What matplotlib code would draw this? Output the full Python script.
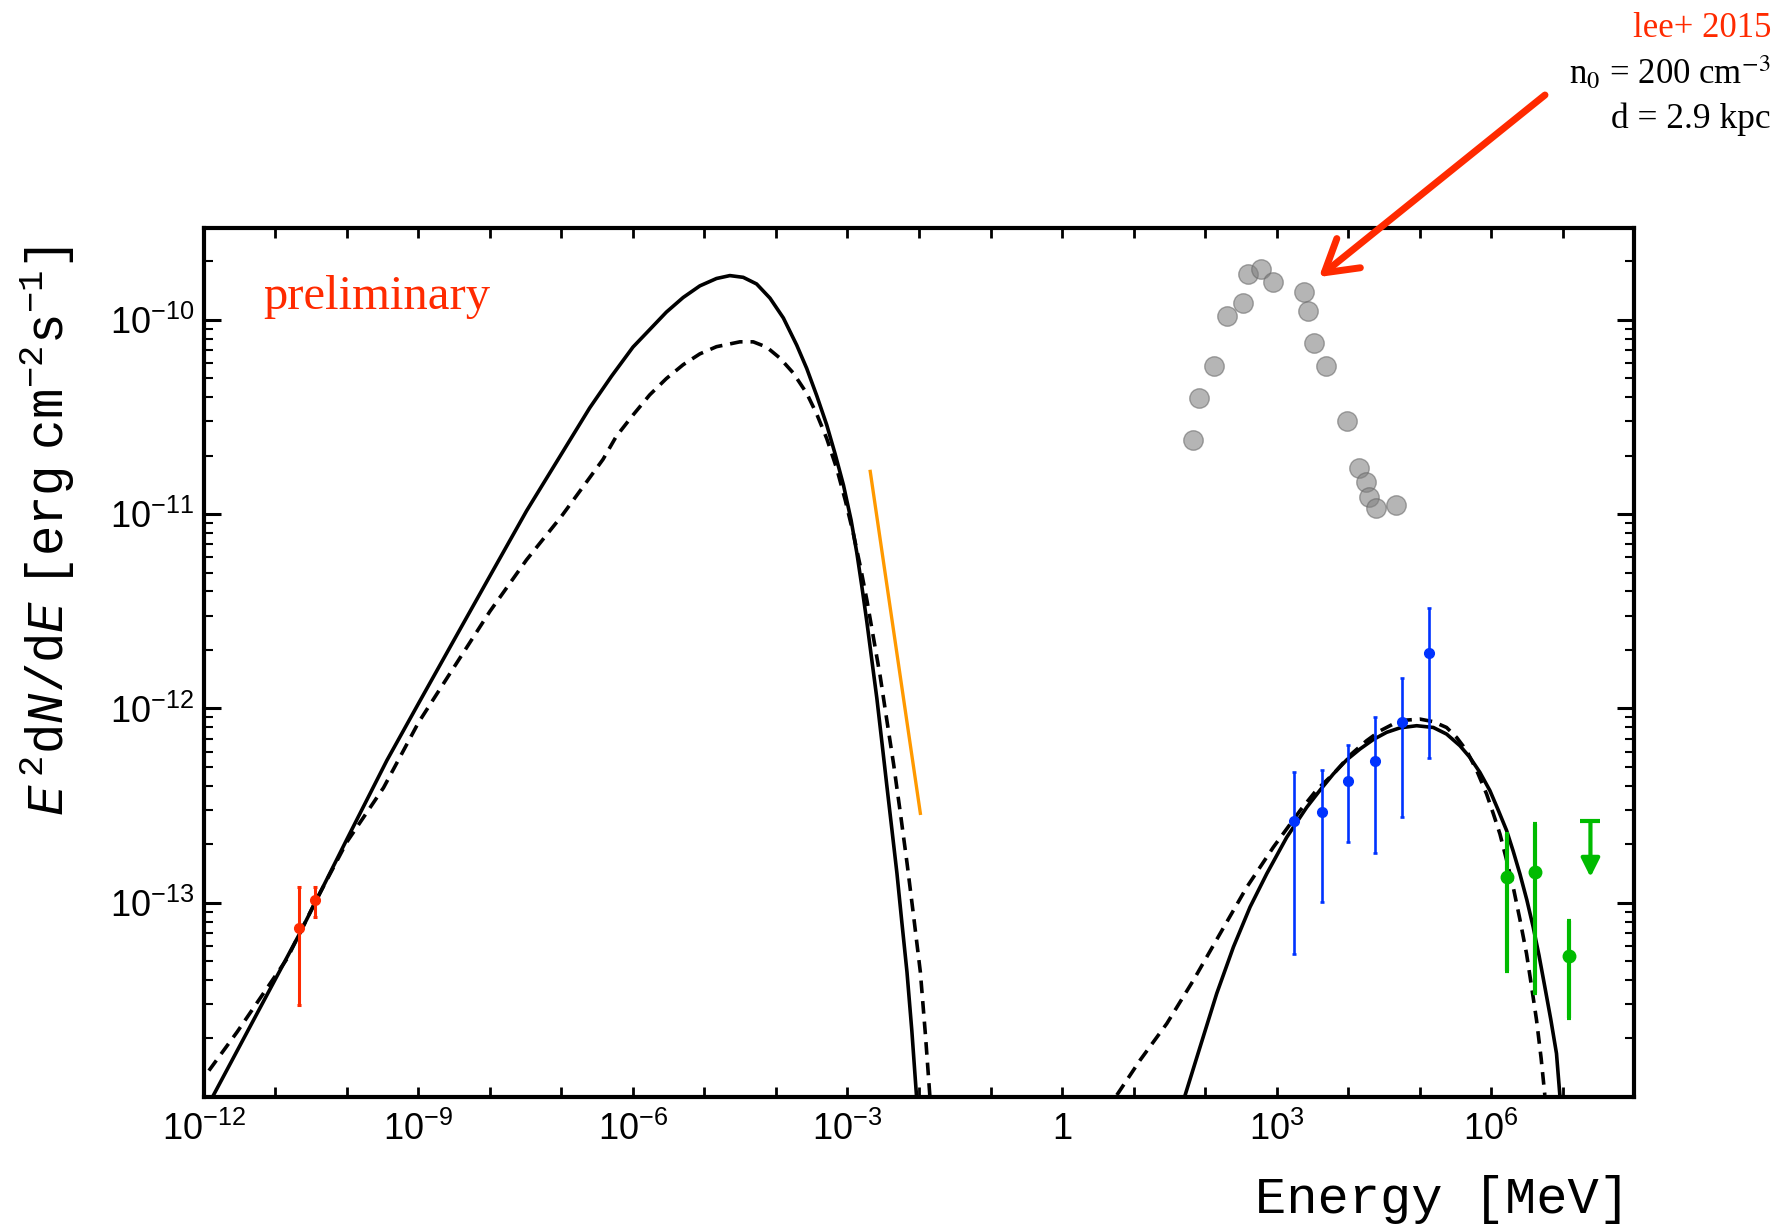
import numpy as np
import matplotlib
matplotlib.use('Agg')
import matplotlib.pyplot as plt
from matplotlib.ticker import FixedLocator, FuncFormatter, NullLocator, LogLocator, NullFormatter

plt.rcParams['font.family'] = 'Liberation Sans'
plt.rcParams['mathtext.fontset'] = 'custom'
plt.rcParams['mathtext.rm'] = 'Liberation Mono'
plt.rcParams['mathtext.tt'] = 'Liberation Mono'
plt.rcParams['mathtext.it'] = 'Liberation Mono:italic'
plt.rcParams['mathtext.bf'] = 'Liberation Mono:bold'

RED = '#ff2a00'
BLUE = '#0033ff'
GREEN = '#00bb00'
ORANGE = '#ff9900'

# model curves as log10(E/MeV), log10(flux)
sync_solid_logE = [-11.88, -10.674, -10.0, -9.442, -9.0, -8.512, -8.0, -7.488, -7.0, -6.605,
                   -6.3, -6.0, -5.766, -5.533, -5.299, -5.065, -4.832, -4.645, -4.458, -4.271,
                   -4.084, -3.897, -3.71, -3.57, -3.43, -3.29, -3.173, -3.056, -2.95, -2.869,
                   -2.8, -2.729, -2.66, -2.589, -2.52, -2.449, -2.38, -2.308, -2.24, -2.168,
                   -2.1, -2.028]
sync_solid_logF = [-14.0, -13.168, -12.673, -12.268, -11.975, -11.654, -11.318, -10.983, -10.69, -10.453,
                   -10.29, -10.14, -10.05, -9.96, -9.885, -9.825, -9.787, -9.772, -9.781, -9.815,
                   -9.888, -9.99, -10.13, -10.25, -10.39, -10.541, -10.69, -10.851, -11.03, -11.2,
                   -11.37, -11.555, -11.75, -11.949, -12.17, -12.40, -12.62, -12.85, -13.1, -13.357,
                   -13.66, -14.03]

sync_dash_logE = [-12.1, -11.535, -10.837, -10.44, -10.0, -9.488, -9.0, -8.512, -8.0, -7.488,
                  -7.0, -6.7, -6.419, -6.234, -6.0, -5.766, -5.533, -5.299, -5.065, -4.832,
                  -4.505, -4.318, -4.131, -3.944, -3.757, -3.57, -3.43, -3.29, -3.15, -3.03,
                  -2.916, -2.82, -2.729, -2.635, -2.542, -2.45, -2.355, -2.26, -2.168, -2.075,
                  -1.981, -1.91, -1.841]
sync_dash_logF = [-13.95, -13.665, -13.288, -12.994, -12.687, -12.408, -12.073, -11.793, -11.5, -11.235,
                  -11.011, -10.86, -10.718, -10.6, -10.49, -10.386, -10.302, -10.231, -10.175, -10.138,
                  -10.113, -10.113, -10.14, -10.197, -10.274, -10.378, -10.485, -10.611, -10.766, -10.93,
                  -11.104, -11.27, -11.442, -11.64, -11.836, -12.06, -12.287, -12.54, -12.794, -13.07,
                  -13.357, -13.68, -14.03]

ic_solid_logE = [1.722, 1.932, 2.164, 2.397, 2.63, 2.863, 3.143, 3.422, 3.61, 3.795,
                 3.981, 4.167, 4.354, 4.54, 4.726, 4.959, 5.192, 5.378, 5.565, 5.704,
                 5.844, 5.984, 6.1, 6.217, 6.31, 6.403, 6.5, 6.589, 6.67, 6.752,
                 6.835, 6.915, 6.962]
ic_solid_logF = [-13.99, -13.741, -13.467, -13.228, -13.022, -12.851, -12.663, -12.509, -12.42, -12.337,
                 -12.265, -12.209, -12.16, -12.123, -12.1, -12.089, -12.098, -12.132, -12.192, -12.252,
                 -12.329, -12.423, -12.523, -12.628, -12.735, -12.851, -12.985, -13.125, -13.27, -13.433,
                 -13.6, -13.776, -13.99]

ic_dash_logE = [0.767, 1.093, 1.466, 1.838, 2.211, 2.584, 2.956, 3.329, 3.56, 3.795,
                4.03, 4.26, 4.45, 4.633, 4.82, 5.006, 5.19, 5.378, 5.52, 5.658,
                5.8, 5.937, 6.03, 6.124, 6.217, 6.31, 6.403, 6.496, 6.566, 6.636,
                6.7, 6.752]
ic_dash_logF = [-13.99, -13.81, -13.622, -13.399, -13.159, -12.92, -12.714, -12.526, -12.42, -12.337,
                -12.24, -12.166, -12.115, -12.08, -12.06, -12.055, -12.068, -12.098, -12.15, -12.217,
                -12.32, -12.44, -12.54, -12.646, -12.78, -12.92, -13.085, -13.262, -13.43, -13.604,
                -13.8, -13.99]

# x-ray power law
xray_logE = [-2.682, -1.981]
xray_logF = [-10.78, -12.54]

# radio points
radio_logE = [-10.674, -10.442]
radio_logF = [-13.128, -12.986]
radio_hi = [-12.919, -12.919]
radio_lo = [-13.525, -13.073]

# lee+ 2015
lee_logE = [1.827, 1.911, 2.13, 2.311, 2.53, 2.595, 2.781, 2.948, 3.387, 3.437, 3.521,
            3.689, 3.992, 4.16, 4.247, 4.294, 4.397, 4.666]
lee_logF = [-10.618, -10.4, -10.239, -9.982, -9.915, -9.766, -9.74, -9.807, -9.859, -9.954, -10.117,
            -10.239, -10.521, -10.764, -10.832, -10.913, -10.966, -10.952]

# fermi points
fermi_logE = [3.25, 3.632, 4.004, 4.381, 4.759, 5.136]
fermi_logF = [-12.58, -12.534, -12.372, -12.272, -12.068, -11.717]
fermi_hi = [-12.325, -12.315, -12.188, -12.046, -11.844, -11.485]
fermi_lo = [-13.262, -12.997, -12.685, -12.745, -12.56, -12.255]

# tev points
tev_logE = [6.226, 6.612, 7.088]
tev_logF = [-12.868, -12.842, -13.276]
tev_hi = [-12.646, -12.594, -13.094]
tev_lo = [-13.351, -13.467, -13.596]
ul_logE = 7.39
ul_top = -12.582
ul_bottom = -12.868


def p10(a):
    return np.power(10.0, np.asarray(a, dtype=float))


fig = plt.figure(figsize=(17.81, 12.28), dpi=100)
ax = fig.add_axes([0.1145, 0.1067, 0.8030, 0.7076])

dash = (0, (3.5, 2.2))
ax.plot(p10(sync_solid_logE), p10(sync_solid_logF), color='k', lw=2.6)
ax.plot(p10(sync_dash_logE), p10(sync_dash_logF), color='k', lw=2.6, ls=dash)
ax.plot(p10(ic_solid_logE), p10(ic_solid_logF), color='k', lw=2.6)
ax.plot(p10(ic_dash_logE), p10(ic_dash_logF), color='k', lw=2.6, ls=dash)
ax.plot(p10(xray_logE), p10(xray_logF), color=ORANGE, lw=2.4)

# data points
f = p10(radio_logF)
ax.errorbar(p10(radio_logE), f, yerr=[f - p10(radio_lo), p10(radio_hi) - f], fmt='o', color=RED,
            ms=7, elinewidth=2.2, capsize=1.5, capthick=2.2)

ax.plot(p10(lee_logE), p10(lee_logF), 'o', ms=14, mfc='gray', mec='dimgray', mew=1, alpha=0.58)

f = p10(fermi_logF)
ax.errorbar(p10(fermi_logE), f, yerr=[f - p10(fermi_lo), p10(fermi_hi) - f], fmt='o', color=BLUE,
            ms=7, elinewidth=1.9, capsize=1.2, capthick=1.9)

f = p10(tev_logF)
ax.errorbar(p10(tev_logE), f, yerr=[f - p10(tev_lo), p10(tev_hi) - f], fmt='o', color=GREEN,
            ms=9, elinewidth=3, capsize=1.5, capthick=3)
ax.plot(p10(ul_logE), p10(ul_top), marker='_', ms=14, mew=3, color=GREEN)
ax.annotate('', xy=(p10(ul_logE), p10(ul_bottom)), xytext=(p10(ul_logE), p10(ul_top)),
            arrowprops=dict(arrowstyle='-|>', color=GREEN, lw=3, mutation_scale=28,
                            shrinkA=0, shrinkB=0))

# axes
ax.set_xscale('log')
ax.set_yscale('log')
ax.set_xlim(1e-12, 1e8)
ax.set_ylim(1e-14, 2.97e-10)


def xfmt(v, pos):
    n = int(round(np.log10(v)))
    if n == 0:
        return '1'
    if n % 3 == 0:
        return r'$\mathdefault{10^{%d}}$' % n
    return ''


def yfmt(v, pos):
    n = int(round(np.log10(v)))
    return r'$\mathdefault{10^{%d}}$' % n


ax.xaxis.set_major_locator(FixedLocator(p10(np.arange(-12, 9))))
ax.xaxis.set_major_formatter(FuncFormatter(xfmt))
ax.xaxis.set_minor_locator(NullLocator())
ax.yaxis.set_major_locator(FixedLocator([1e-13, 1e-12, 1e-11, 1e-10]))
ax.yaxis.set_major_formatter(FuncFormatter(yfmt))
ax.yaxis.set_minor_locator(LogLocator(base=10, subs=np.arange(2, 10)))
ax.yaxis.set_minor_formatter(NullFormatter())

ax.tick_params(which='both', direction='in', top=True, right=True)
ax.tick_params(axis='y', which='major', length=12, width=2.2, pad=7, labelsize=26)
ax.tick_params(axis='y', which='minor', length=6.5, width=1.5)
ax.tick_params(axis='x', which='major', length=7, width=2, pad=11, labelsize=26)
for s in ax.spines.values():
    s.set_linewidth(3)

# labels
fig.text(47 / 1781, 1 - 531 / 1228,
         r'$\mathit{E}\;{}^{2}\mathrm{d}\mathit{N}\mathrm{/d}\mathit{E}\enspace'
         r'\mathrm{[erg\enspace cm^{-2}s^{-1}]}$',
         rotation=90, ha='center', va='center', fontsize=36.5)
fig.text(1630 / 1781, 1 - 1213 / 1228, 'Energy [MeV]', ha='right', va='baseline',
         family='Liberation Mono', fontsize=37.5)

fig.text(263 / 1781, 1 - 309 / 1228, 'preliminary', family='Liberation Serif', fontsize=35,
         color=RED, va='baseline')
fig.text(1771 / 1781, 1 - 37 / 1228, 'lee+ 2015', family='Liberation Serif', fontsize=25,
         color=RED, ha='right', va='baseline')
fig.text(1771 / 1781, 1 - 84 / 1228, r'n$_0$ = 200 cm$^{-3}$', family='Liberation Serif', fontsize=25,
         ha='right', va='baseline', math_fontfamily='stix')
fig.text(1771 / 1781, 1 - 128 / 1228, 'd = 2.9 kpc', family='Liberation Serif', fontsize=25.5,
         ha='right', va='baseline')

# arrow pointing to the lee+ 2015 points
ax.annotate('', xy=(1319, 1228 - 277), xycoords='figure pixels',
            xytext=(1545, 1228 - 95), textcoords='figure pixels',
            arrowprops=dict(arrowstyle='->,head_length=0.75,head_width=0.45', color=RED, lw=5,
                            mutation_scale=30, shrinkA=0, shrinkB=0),
            annotation_clip=False)

fig.savefig('out.png', dpi=100)
